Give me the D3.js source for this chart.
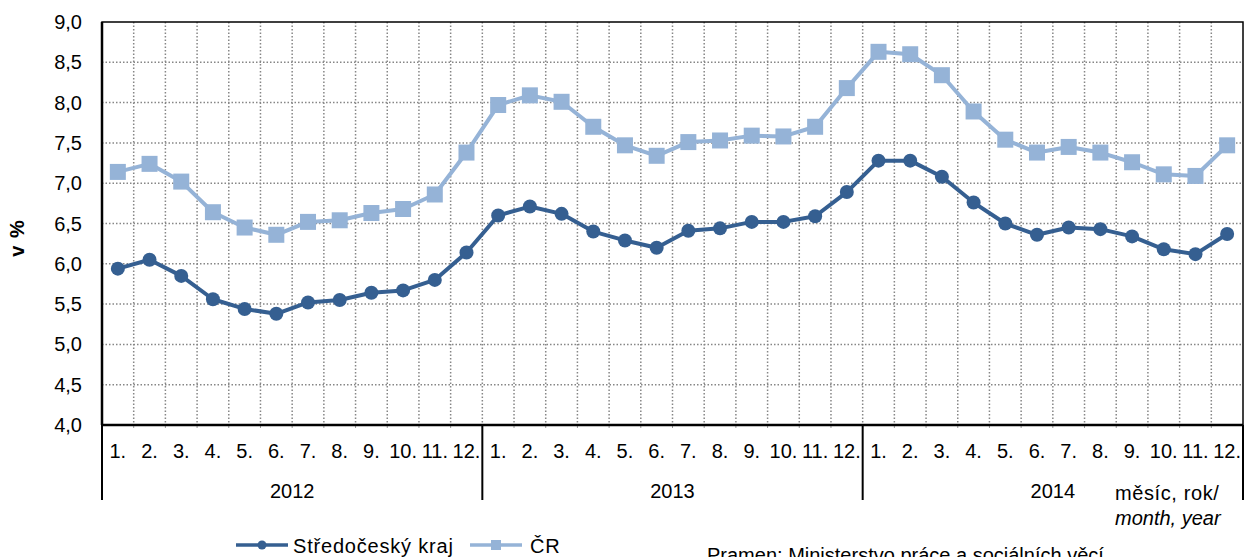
<!DOCTYPE html>
<html>
<head>
<meta charset="utf-8">
<script src="https://cdn.jsdelivr.net/npm/d3@7"></script>
<style>
  html, body { margin: 0; padding: 0; background: #fff; overflow: hidden; }
  svg { display: block; font-family: "Liberation Sans", Arial, sans-serif; }
</style>
</head>
<body>
<div id="chart"></div>
<script>
// data
const years = ["2012", "2013", "2014"];
const months = ["1.", "2.", "3.", "4.", "5.", "6.", "7.", "8.", "9.", "10.", "11.", "12."];
const stredocesky = [
	5.94, 6.05, 5.85, 5.56, 5.44, 5.38, 5.52, 5.55, 5.64, 5.67, 5.80, 6.14,
	6.60, 6.71, 6.62, 6.40, 6.29, 6.20, 6.41, 6.44, 6.52, 6.52, 6.59, 6.89,
	7.28, 7.28, 7.08, 6.76, 6.50, 6.36, 6.45, 6.43, 6.34, 6.18, 6.12, 6.37
];
const cr = [
	7.14, 7.24, 7.02, 6.64, 6.45, 6.36, 6.52, 6.54, 6.63, 6.68, 6.86, 7.38,
	7.97, 8.09, 8.01, 7.70, 7.47, 7.34, 7.51, 7.53, 7.59, 7.58, 7.70, 8.18,
	8.63, 8.60, 8.34, 7.89, 7.54, 7.38, 7.45, 7.38, 7.26, 7.11, 7.09, 7.47
];
const yTicks = [4.0, 4.5, 5.0, 5.5, 6.0, 6.5, 7.0, 7.5, 8.0, 8.5, 9.0];

const FONT_SIZE = 20;
const width = 1245, height = 557;
const margin = { top: 22, right: 2, bottom: 132, left: 102 };
const innerWidth = width - margin.left - margin.right;
const innerHeight = height - margin.top - margin.bottom;

// one key per month of the whole period
const keys = [];
years.forEach(y => months.forEach(m => keys.push(y + "-" + m)));

const svg = d3.select('#chart')
	.append('svg')
	.attr('width', width)
	.attr('height', height);

const x = d3.scaleBand().domain(keys).range([0, innerWidth]);
const y = d3.scaleLinear().domain([4, 9]).range([innerHeight, 0]);

const g = svg.append("g")
	.attr("transform", `translate(${margin.left},${margin.top})`);

// horizontal grid
g.append("g")
	.selectAll("line")
	.data(yTicks.slice(1, -1))
	.enter()
	.append("line")
	.attr("x1", 0).attr("x2", innerWidth)
	.attr("y1", d => y(d)).attr("y2", d => y(d))
	.attr("stroke", "#868686")
	.attr("stroke-width", 1.5)
	.attr("stroke-dasharray", "1.5,2");

// vertical grid at band boundaries
g.append("g")
	.selectAll("line")
	.data(keys.slice(1))
	.enter()
	.append("line")
	.attr("x1", d => x(d)).attr("x2", d => x(d))
	.attr("y1", 0).attr("y2", innerHeight)
	.attr("stroke", "#868686")
	.attr("stroke-width", 1.5)
	.attr("stroke-dasharray", "1.5,2");

// small ticks under the axis
g.append("g")
	.selectAll("line")
	.data(keys.slice(1))
	.enter()
	.append("line")
	.attr("x1", d => x(d)).attr("x2", d => x(d))
	.attr("y1", innerHeight).attr("y2", innerHeight + 3)
	.attr("stroke", "#999");

// plot frame
g.append("rect")
	.attr("width", innerWidth)
	.attr("height", innerHeight)
	.attr("fill", "none")
	.attr("stroke", "#000")
	.attr("stroke-width", 1.5);
g.append("line")
	.attr("x1", 0).attr("x2", innerWidth)
	.attr("y1", innerHeight).attr("y2", innerHeight)
	.attr("stroke", "#000").attr("stroke-width", 2.5);
g.append("line")
	.attr("x1", 0).attr("x2", 0)
	.attr("y1", 0).attr("y2", innerHeight)
	.attr("stroke", "#000").attr("stroke-width", 2.5);

// y tick labels
g.append("g")
	.selectAll("text")
	.data(yTicks)
	.enter()
	.append("text")
	.attr("x", -20)
	.attr("y", d => y(d))
	.attr("dy", "0.35em")
	.attr("text-anchor", "end")
	.style("font-size", `${FONT_SIZE}px`)
	.text(d => d3.format(".1f")(d).replace(".", ","));

// y label
svg.append("text")
	.attr("transform", `translate(24,238) rotate(-90)`)
	.attr("text-anchor", "middle")
	.style("font-size", `${FONT_SIZE}px`)
	.style("font-weight", "bold")
	.style("letter-spacing", "1px")
	.text("v %");

// month labels
g.append("g")
	.selectAll("text")
	.data(keys)
	.enter()
	.append("text")
	.attr("x", d => x(d) + x.bandwidth() / 2)
	.attr("y", innerHeight + 33)
	.attr("text-anchor", "middle")
	.style("font-size", `${FONT_SIZE}px`)
	.text(d => d.split("-")[1]);

// year separators
const yearWidth = innerWidth / years.length;
g.append("g")
	.selectAll("line")
	.data(d3.range(years.length + 1))
	.enter()
	.append("line")
	.attr("x1", i => x(keys[i * 12]) !== undefined ? x(keys[i * 12]) : innerWidth)
	.attr("x2", i => x(keys[i * 12]) !== undefined ? x(keys[i * 12]) : innerWidth)
	.attr("y1", innerHeight)
	.attr("y2", innerHeight + 75)
	.attr("stroke", "#000")
	.attr("stroke-width", 2);

// year labels
g.append("g")
	.selectAll("text")
	.data(years)
	.enter()
	.append("text")
	.attr("x", (d, i) => x(d + "-1.") + yearWidth / 2)
	.attr("y", innerHeight + 73)
	.attr("text-anchor", "middle")
	.style("font-size", `${FONT_SIZE}px`)
	.text(d => d);

// axis title
svg.append("text")
	.attr("x", 1115)
	.attr("y", 500)
	.style("font-size", `${FONT_SIZE}px`)
	.style("letter-spacing", "0.6px")
	.text("měsíc, rok/");
svg.append("text")
	.attr("x", 1115)
	.attr("y", 525)
	.style("font-size", `${FONT_SIZE}px`)
	.style("font-style", "italic")
	.text("month, year");

// series
const series = [
	{ name: "Středočeský kraj", values: stredocesky, color: "#355F91", marker: "circle" },
	{ name: "ČR", values: cr, color: "#95B3D7", marker: "square" }
];

const line = d3.line()
	.x((d, i) => x(keys[i]) + x.bandwidth() / 2)
	.y(d => y(d));

// draw CR first so the dark series sits on top where close
[series[1], series[0]].forEach(s => {
	g.append("path")
		.datum(s.values)
		.attr("fill", "none")
		.attr("stroke", s.color)
		.attr("stroke-width", 4)
		.attr("stroke-linejoin", "round")
		.attr("d", line);

	if (s.marker === "circle") {
		g.append("g")
			.selectAll("circle")
			.data(s.values)
			.enter()
			.append("circle")
			.attr("cx", (d, i) => x(keys[i]) + x.bandwidth() / 2)
			.attr("cy", d => y(d))
			.attr("r", 7)
			.attr("fill", s.color);
	} else {
		g.append("g")
			.selectAll("rect")
			.data(s.values)
			.enter()
			.append("rect")
			.attr("x", (d, i) => x(keys[i]) + x.bandwidth() / 2 - 8)
			.attr("y", d => y(d) - 8)
			.attr("width", 16)
			.attr("height", 16)
			.attr("fill", s.color);
	}
});

// legend
const legendItems = [
	{ s: series[0], x0: 236, tx: 293 },
	{ s: series[1], x0: 470, tx: 530 }
];
const legendY = 545;
legendItems.forEach(li => {
	const lg = svg.append("g");
	lg.append("line")
		.attr("x1", li.x0).attr("x2", li.x0 + 52)
		.attr("y1", legendY).attr("y2", legendY)
		.attr("stroke", li.s.color)
		.attr("stroke-width", 3.5);
	if (li.s.marker === "circle") {
		lg.append("circle")
			.attr("cx", li.x0 + 26).attr("cy", legendY)
			.attr("r", 4.5)
			.attr("fill", li.s.color);
	} else {
		lg.append("rect")
			.attr("x", li.x0 + 26 - 5).attr("y", legendY - 5)
			.attr("width", 10).attr("height", 10)
			.attr("fill", li.s.color);
	}
	lg.append("text")
		.attr("x", li.tx)
		.attr("y", 553)
		.style("font-size", `${FONT_SIZE}px`)
		.style("letter-spacing", "0.8px")
		.text(li.s.name);
});

// source, cut by the bottom edge as in the original
svg.append("text")
	.attr("x", 707)
	.attr("y", 562)
	.style("font-size", `${FONT_SIZE}px`)
	.text("Pramen: Ministerstvo práce a sociálních věcí");
</script>
</body>
</html>
